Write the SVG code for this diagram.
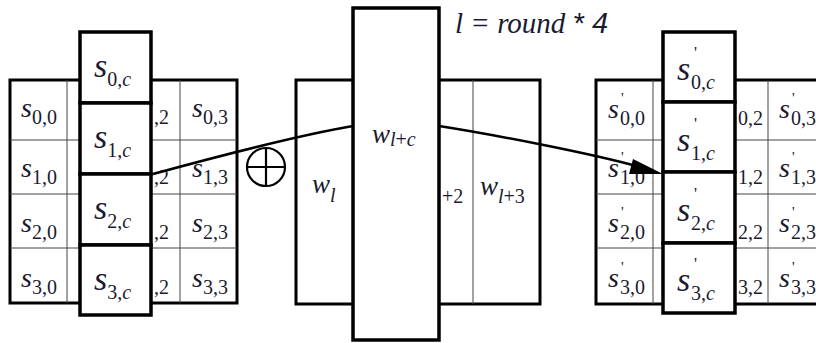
<svg xmlns="http://www.w3.org/2000/svg" width="816" height="343" viewBox="0 0 816 343">
<style>
.bg{fill:#fff}
.outer{fill:#fff;stroke:#000;stroke-width:3}
.thin{stroke:#444;stroke-width:1;fill:none}
.box{fill:#fff;stroke:#000;stroke-width:3.5}
.t{fill:#1a1a30;font-family:'Liberation Serif','Times New Roman','DejaVu Serif',serif}
.s{font-size:28px;font-style:italic}
.sb{font-size:34px;font-style:italic}
.sub{font-size:20px;font-style:normal}
.i{font-style:italic}
.pr{font-size:15px;font-style:normal}
.prb{font-size:17px;font-style:normal}
.w{font-size:27px;font-style:italic}
.conn{fill:none;stroke:#000;stroke-width:2.5}
.head{fill:#000}
</style>
<rect class="bg" x="0" y="0" width="816" height="343"/>

<g id="left-state">
<rect class="outer" x="10" y="80" width="227" height="223"/>
<line class="thin" x1="67" y1="80" x2="67" y2="303"/>
<line class="thin" x1="180" y1="80" x2="180" y2="303"/>
<line class="thin" x1="10" y1="140" x2="237" y2="140"/>
<line class="thin" x1="10" y1="194" x2="237" y2="194"/>
<line class="thin" x1="10" y1="248" x2="237" y2="248"/>
<text class="t s" x="21" y="117">s<tspan class="sub" dy="7">0,0</tspan></text>
<text class="t s" x="21" y="177">s<tspan class="sub" dy="7">1,0</tspan></text>
<text class="t s" x="21" y="232">s<tspan class="sub" dy="7">2,0</tspan></text>
<text class="t s" x="21" y="287">s<tspan class="sub" dy="7">3,0</tspan></text>
<text class="t sub" x="154" y="124">,2</text>
<text class="t sub" x="154" y="184">,2</text>
<text class="t sub" x="154" y="239">,2</text>
<text class="t sub" x="154" y="294">,2</text>
<text class="t s" x="192" y="117">s<tspan class="sub" dy="7">0,3</tspan></text>
<text class="t s" x="192" y="177">s<tspan class="sub" dy="7">1,3</tspan></text>
<text class="t s" x="192" y="232">s<tspan class="sub" dy="7">2,3</tspan></text>
<text class="t s" x="192" y="287">s<tspan class="sub" dy="7">3,3</tspan></text>
</g>

<g id="left-column">
<rect class="box" x="80" y="32" width="71" height="71"/>
<rect class="box" x="80" y="103" width="71" height="71"/>
<rect class="box" x="80" y="174" width="71" height="71"/>
<rect class="box" x="80" y="245" width="71" height="70"/>
<text class="t sb" x="94" y="77">s<tspan class="sub" dy="9">0,<tspan class="i">c</tspan></tspan></text>
<text class="t sb" x="94" y="148">s<tspan class="sub" dy="9">1,<tspan class="i">c</tspan></tspan></text>
<text class="t sb" x="94" y="219">s<tspan class="sub" dy="9">2,<tspan class="i">c</tspan></tspan></text>
<text class="t sb" x="94" y="290">s<tspan class="sub" dy="9">3,<tspan class="i">c</tspan></tspan></text>
</g>

<g id="xor">
<circle cx="266" cy="167" r="19" fill="none" stroke="#000" stroke-width="2.2"/>
<line x1="247" y1="167" x2="285" y2="167" stroke="#000" stroke-width="2.2"/>
<line x1="266" y1="148" x2="266" y2="186" stroke="#000" stroke-width="2.2"/>
</g>

<g id="key-words">
<rect class="outer" x="296" y="80" width="244" height="224"/>
<line class="thin" x1="473" y1="80" x2="473" y2="304"/>
<text class="t w" x="312" y="193">w<tspan class="sub i" dy="9">l</tspan></text>
<text class="t sub" x="442" y="203">+2</text>
<text class="t w" x="480" y="195">w<tspan class="sub" dy="8"><tspan class="i">l</tspan>+3</tspan></text>
</g>

<g id="key-word-c">
<rect class="box" x="353" y="8" width="86" height="332"/>
<text class="t w" x="372" y="143">w<tspan class="sub" dy="3"><tspan class="i">l</tspan>+<tspan class="i">c</tspan></tspan></text>
</g>

<g id="title">
<text class="t" x="455" y="33" font-size="29" font-style="italic">l = round <tspan style="font-family:'Liberation Sans',Arial,sans-serif">* 4</tspan></text>
</g>

<g id="right-state">
<rect class="outer" x="596" y="80" width="229" height="224"/>
<line class="thin" x1="653" y1="80" x2="653" y2="304"/>
<line class="thin" x1="768" y1="80" x2="768" y2="304"/>
<line class="thin" x1="596" y1="140" x2="825" y2="140"/>
<line class="thin" x1="596" y1="194" x2="825" y2="194"/>
<line class="thin" x1="596" y1="248" x2="825" y2="248"/>
<text class="t s" x="608" y="118">s<tspan class="pr" x="621" y="103">'</tspan><tspan class="sub" x="620" y="125">0,0</tspan></text>
<text class="t s" x="608" y="177">s<tspan class="pr" x="621" y="162">'</tspan><tspan class="sub" x="620" y="184">1,0</tspan></text>
<text class="t s" x="608" y="232">s<tspan class="pr" x="621" y="217">'</tspan><tspan class="sub" x="620" y="239">2,0</tspan></text>
<text class="t s" x="608" y="287">s<tspan class="pr" x="621" y="272">'</tspan><tspan class="sub" x="620" y="294">3,0</tspan></text>
<text class="t sub" x="738" y="125">0,2</text>
<text class="t sub" x="738" y="184">1,2</text>
<text class="t sub" x="738" y="239">2,2</text>
<text class="t sub" x="738" y="294">3,2</text>
<text class="t s" x="779" y="118">s<tspan class="pr" x="792" y="103">'</tspan><tspan class="sub" x="791" y="125">0,3</tspan></text>
<text class="t s" x="779" y="177">s<tspan class="pr" x="792" y="162">'</tspan><tspan class="sub" x="791" y="184">1,3</tspan></text>
<text class="t s" x="779" y="232">s<tspan class="pr" x="792" y="217">'</tspan><tspan class="sub" x="791" y="239">2,3</tspan></text>
<text class="t s" x="779" y="287">s<tspan class="pr" x="792" y="272">'</tspan><tspan class="sub" x="791" y="294">3,3</tspan></text>
</g>

<g id="right-column">
<rect class="box" x="663" y="32" width="72" height="70"/>
<rect class="box" x="663" y="102" width="72" height="70"/>
<rect class="box" x="663" y="172" width="72" height="71"/>
<rect class="box" x="663" y="243" width="72" height="70"/>
<text class="t sb" x="677" y="80">s<tspan class="prb" x="694" y="58">'</tspan><tspan class="sub" x="691" y="89">0,<tspan class="i">c</tspan></tspan></text>
<text class="t sb" x="677" y="151">s<tspan class="prb" x="694" y="129">'</tspan><tspan class="sub" x="691" y="160">1,<tspan class="i">c</tspan></tspan></text>
<text class="t sb" x="677" y="221">s<tspan class="prb" x="694" y="199">'</tspan><tspan class="sub" x="691" y="230">2,<tspan class="i">c</tspan></tspan></text>
<text class="t sb" x="677" y="291">s<tspan class="prb" x="694" y="269">'</tspan><tspan class="sub" x="691" y="300">3,<tspan class="i">c</tspan></tspan></text>
</g>

<g id="connectors">
<path class="conn" d="M153,174 C230,153 300,135 353,126"/>
<path class="conn" d="M439,126 C490,134 590,153 640,167"/>
<polygon class="head" points="663,174 633,159 629,174"/>
</g>
</svg>
